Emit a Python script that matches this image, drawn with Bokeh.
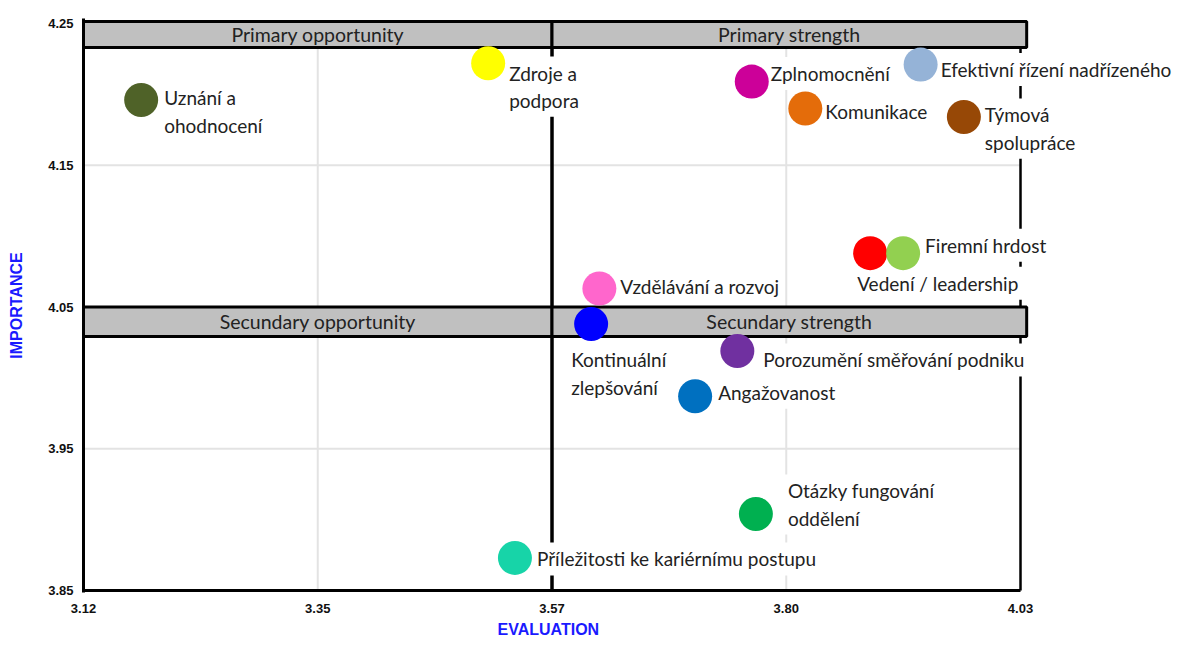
import numpy as np
from bokeh.plotting import figure
from bokeh.models import Range1d, FixedTicker, ColumnDataSource, Title
from bokeh.core.properties import value
from bokeh.embed import file_html
from bokeh.resources import INLINE

# ---------------- data ----------------
categories = [
    "Uznání a\nohodnocení", "Zdroje a\npodpora", "Zplnomocnění", "Komunikace",
    "Efektivní řízení nadřízeného", "Týmová\nspolupráce", "Vedení / leadership",
    "Firemní hrdost", "Vzdělávání a rozvoj", "Kontinuální\nzlepšování",
    "Porozumění směřování podniku", "Angažovanost", "Otázky fungování\noddělení",
    "Příležitosti ke kariérnímu postupu",
]
evaluation = [3.176, 3.513, 3.769, 3.821, 3.933, 3.975, 3.884, 3.916,
              3.621, 3.613, 3.755, 3.714, 3.773, 3.539]
importance = [4.196, 4.222, 4.209, 4.190, 4.221, 4.184, 4.088, 4.088,
              4.063, 4.038, 4.019, 3.987, 3.904, 3.873]
colors = ["#4f6228", "#ffff00", "#cc0099", "#e46c0a", "#95b3d7", "#974806",
          "#ff0000", "#92d050", "#ff66cc", "#0000ff", "#7030a0", "#0070c0",
          "#00b050", "#17d4a8"]

x_ticks = [3.12, 3.3475, 3.575, 3.8025, 4.03]
x_tick_labels = ["3.12", "3.35", "3.57", "3.80", "4.03"]
y_ticks = [3.85, 3.95, 4.05, 4.15, 4.25]
y_tick_labels = ["3.85", "3.95", "4.05", "4.15", "4.25"]

quadrant_titles = ["Primary opportunity", "Primary strength",
                   "Secundary opportunity", "Secundary strength"]
mid_x = 3.575

# ---------------- layout / style ----------------
label_dx = [18, 16, 14, 15, 15, 16, -18, 17, 16, -25, 21, 18, 27, 17]
label_dy = [11.5, 23.5, -8, 3, 5, 11.5, 30, -8, -2, 49.5, 9, -4, -9.5, 1]
FONT = value("Lato")
FSIZE = "19px"

x0, x1 = x_ticks[0], x_ticks[-1]
y0, y1 = y_ticks[0], y_ticks[-1]
box_right = 4.036
prim_top, prim_bot = 4.2514, 4.2331
sec_top, sec_bot = 4.05, 4.0292

p = figure(width=1176, height=642, output_backend="svg", toolbar_location=None,
           x_range=Range1d(3.12, 4.1815), y_range=Range1d(3.84859, 4.25353),
           min_border_left=83, min_border_right=0, min_border_top=18,
           min_border_bottom=50)
p.outline_line_color = None
p.xgrid.visible = False
p.ygrid.visible = False
p.background_fill_color = "white"
p.border_fill_color = "white"

p.xaxis.ticker = FixedTicker(ticks=x_ticks)
p.xaxis.major_label_overrides = {t: l for t, l in zip(x_ticks, x_tick_labels)}
p.yaxis.ticker = FixedTicker(ticks=y_ticks)
p.yaxis.major_label_overrides = {t: l for t, l in zip(y_ticks, y_tick_labels)}
for ax in (p.xaxis[0], p.yaxis[0]):
    ax.major_tick_line_color = None
    ax.minor_tick_line_color = None
    ax.major_label_text_font = "Liberation Sans"
    ax.major_label_text_font_style = "bold"
    ax.major_label_text_font_size = "13px"
    ax.major_label_text_color = "#111111"
p.xaxis.axis_line_color = None
p.xaxis.major_label_standoff = 5
p.yaxis.axis_line_color = "black"
p.yaxis.axis_line_width = 3
p.yaxis.major_label_standoff = 4

# axis titles
p.yaxis.axis_label = "IMPORTANCE"
p.yaxis.axis_label_standoff = 20
p.yaxis.axis_label_text_font = "Liberation Sans"
p.yaxis.axis_label_text_font_style = "bold"
p.yaxis.axis_label_text_font_size = "16px"
p.yaxis.axis_label_text_color = "#1a1aff"
p.add_layout(Title(text="EVALUATION", align="left", offset=414, standoff=6,
                   text_font="Liberation Sans", text_font_style="bold",
                   text_font_size="16px", text_color="#1a1aff"), "below")

# gridlines
gx = x_ticks[1:-1]
p.segment(x0=gx, y0=[y0] * len(gx), x1=gx, y1=[prim_bot] * len(gx),
          line_color="#e3e3e3", line_width=2)
gy = y_ticks[1:-1]
p.segment(x0=[x0] * len(gy), y0=gy, x1=[x1] * len(gy), y1=gy,
          line_color="#e3e3e3", line_width=2)

# frame lines and quadrant divider
p.segment(x0=[x0, x1, mid_x], y0=[y0, y0, y0], x1=[x1, x1, mid_x],
          y1=[y0, prim_bot, prim_top], line_color="black", line_width=[3, 2.5, 3.5])

# quadrant title boxes
qs = ColumnDataSource(dict(
    left=[x0, mid_x, x0, mid_x], right=[mid_x, box_right, mid_x, box_right],
    top=[prim_top, prim_top, sec_top, sec_top],
    bottom=[prim_bot, prim_bot, sec_bot, sec_bot], title=quadrant_titles))
qs.data["cx"] = [(a + b) / 2 for a, b in zip(qs.data["left"], qs.data["right"])]
qs.data["cy"] = [(a + b) / 2 for a, b in zip(qs.data["top"], qs.data["bottom"])]
p.quad(left="left", right="right", top="top", bottom="bottom", source=qs,
       fill_color="#c0c0c0", line_color="black", line_width=3)
p.text(x="cx", y="cy", text="title", source=qs, text_font=FONT,
       text_font_size="19.5px", text_color="#222222", text_align="center",
       text_baseline="middle")

# point labels
src = ColumnDataSource(dict(x=evaluation, y=importance, name=categories,
                            color=colors, dx=label_dx, dy=label_dy))
p.text(x="x", y="y", text="name", source=src, x_offset="dx", y_offset="dy",
       text_font=FONT, text_font_size=FSIZE, text_color="#222222",
       text_align="left", text_baseline="middle", text_line_height=1.18,
       background_fill_color="white", padding=5)

p.scatter(x="x", y="y", source=src, size=34, fill_color="color", line_color=None)

open("out.html", "w").write(file_html(p, INLINE))
